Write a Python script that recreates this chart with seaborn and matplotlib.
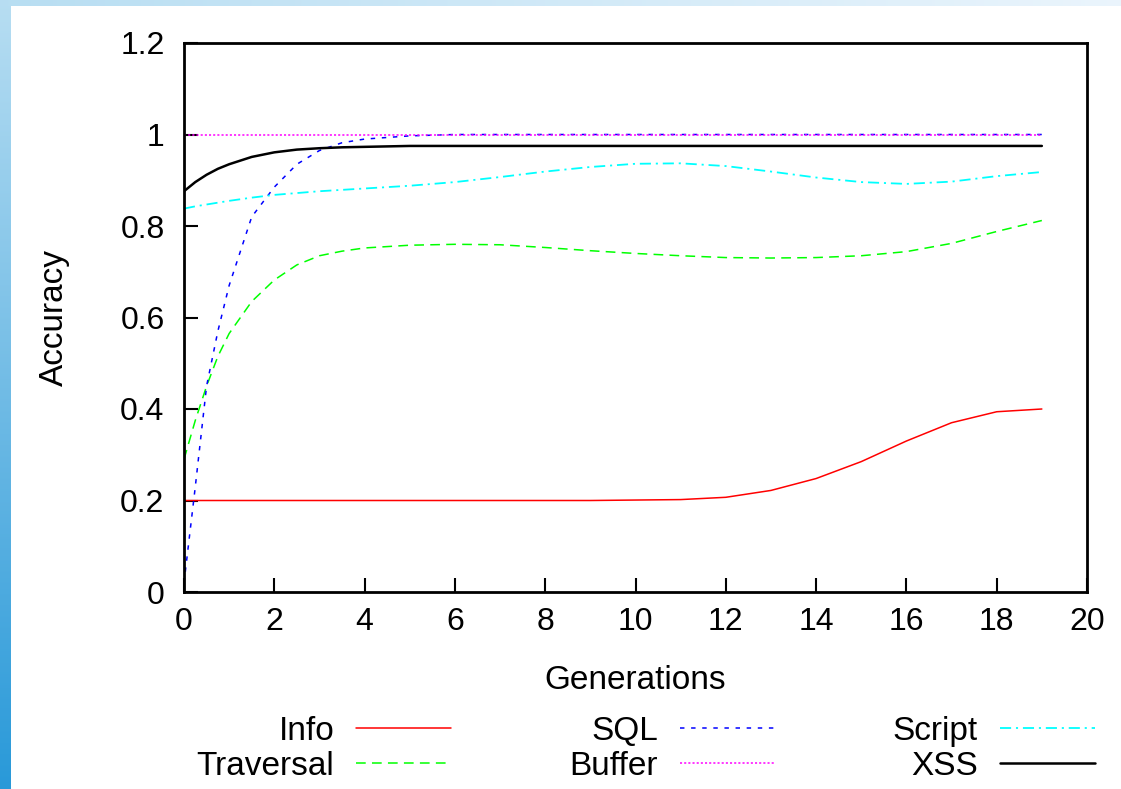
import numpy as np
import pandas as pd
import seaborn as sns
import matplotlib.pyplot as plt

# data (accuracy per generation)
gens = [0, 0.25, 0.5, 0.75, 1, 1.5, 2, 2.5, 3, 3.5, 4,
        5, 6, 7, 8, 9, 10, 11, 12, 13, 14, 15, 16, 17, 18, 19]

info = [0.2, 0.2, 0.2, 0.2, 0.2, 0.2, 0.2, 0.2, 0.2, 0.2, 0.2,
        0.2, 0.2, 0.2, 0.2, 0.2, 0.201, 0.202, 0.207, 0.222, 0.248,
        0.285, 0.330, 0.370, 0.394, 0.40]
traversal = [0.29, 0.375, 0.45, 0.515, 0.565, 0.635, 0.682, 0.715, 0.735, 0.745, 0.752,
             0.758, 0.76, 0.759, 0.753, 0.746, 0.74, 0.735, 0.731, 0.73, 0.731,
             0.735, 0.744, 0.762, 0.788, 0.812]
sql = [0.02, 0.23, 0.45, 0.57, 0.67, 0.82, 0.885, 0.935, 0.965, 0.982, 0.99,
       0.997, 1.0, 1.0, 1.0, 1.0, 1.0, 1.0, 1.0, 1.0, 1.0,
       1.0, 1.0, 1.0, 1.0, 1.0]
buffer = [1.0] * len(gens)
script = [0.838, 0.843, 0.847, 0.851, 0.855, 0.862, 0.868, 0.872, 0.876, 0.879, 0.882,
          0.888, 0.896, 0.907, 0.919, 0.929, 0.936, 0.937, 0.931, 0.919, 0.906,
          0.896, 0.892, 0.897, 0.909, 0.918]
xss = [0.876, 0.896, 0.912, 0.925, 0.935, 0.951, 0.961, 0.967, 0.970, 0.972, 0.973,
       0.975, 0.975, 0.975, 0.975, 0.975, 0.975, 0.975, 0.975, 0.975, 0.975,
       0.975, 0.975, 0.975, 0.975, 0.975]

series_names = ["Info", "Traversal", "SQL", "Buffer", "Script", "XSS"]
series_vals = [info, traversal, sql, buffer, script, xss]

sns.set_style("white")
plt.rcParams['font.family'] = ['Liberation Sans', 'DejaVu Sans']
plt.rcParams['lines.scale_dashes'] = False
plt.rcParams['text.color'] = 'black'
plt.rcParams['axes.labelcolor'] = 'black'
plt.rcParams['xtick.color'] = 'black'
plt.rcParams['ytick.color'] = 'black'

fig = plt.figure(figsize=(11.21, 7.89), dpi=100)

# blue gradient frame on the left and top edge
bg = fig.add_axes([0, 0, 1, 1], zorder=-5)
bg.set_axis_off()
h, w = 789, 1121
img = np.ones((h, w, 3))
t = np.linspace(0, 1, h)[:, None]
left_top = np.array([0.72, 0.87, 0.95])
left_bot = np.array([0.16, 0.60, 0.85])
img[:, :11, :] = (left_top * (1 - t) + left_bot * t)[:, None, :]
s = np.linspace(0, 1, w)[:, None]
top_l = np.array([0.72, 0.87, 0.95])
top_r = np.array([0.92, 0.96, 0.99])
img[:6, :, :] = (top_l * (1 - s) + top_r * s)[None, :, :]
bg.imshow(img, aspect='auto', extent=[0, 1, 0, 1])

ax = fig.add_axes([184 / 1121, 1 - 592 / 789, (1087 - 184) / 1121, (592 - 43) / 789])

styles = {
    "Info": dict(color="#ff0000", linewidth=1.1, linestyle="-"),
    "Traversal": dict(color="#00ff00", linewidth=1.1, linestyle=(0, (7, 4.5))),
    "SQL": dict(color="#0000ff", linewidth=1.1, linestyle=(0, (3.2, 4.8))),
    "Buffer": dict(color="#ff00ff", linewidth=1.1, linestyle=(0, (1.5, 1.5))),
    "Script": dict(color="#00ffff", linewidth=1.3, linestyle=(0, (8, 3.5, 1.5, 3.5))),
    "XSS": dict(color="#000000", linewidth=1.8, linestyle="-"),
}

for name, vals in zip(series_names, series_vals):
    sns.lineplot(x=gens, y=vals, ax=ax, label=name, **styles[name])

ax.set_xlim(0, 20)
ax.set_ylim(0, 1.2)
ax.set_xticks(np.arange(0, 21, 2))
ax.set_yticks([0, 0.2, 0.4, 0.6, 0.8, 1, 1.2])
ax.set_yticklabels(["0", "0.2", "0.4", "0.6", "0.8", "1", "1.2"])
ax.tick_params(axis='both', direction='in', length=10, width=1.5,
               labelsize=23, top=False, right=False, bottom=True, left=True)
ax.tick_params(axis='x', pad=11)
ax.tick_params(axis='y', pad=14)
for sp in ax.spines.values():
    sp.set_linewidth(2)
    sp.set_color("black")

ax.set_xlabel("Generations", fontsize=24, labelpad=20)
ax.set_ylabel("Accuracy", fontsize=24, labelpad=36)

ax.legend(ncol=3, markerfirst=False, frameon=False, loc='upper center',
          bbox_to_anchor=(0.576, 0.114), bbox_transform=fig.transFigure,
          handlelength=2.85, handletextpad=0.65, columnspacing=3.55,
          labelspacing=0.12, borderpad=0, fontsize=24)

fig.savefig("out.png", dpi=100)
